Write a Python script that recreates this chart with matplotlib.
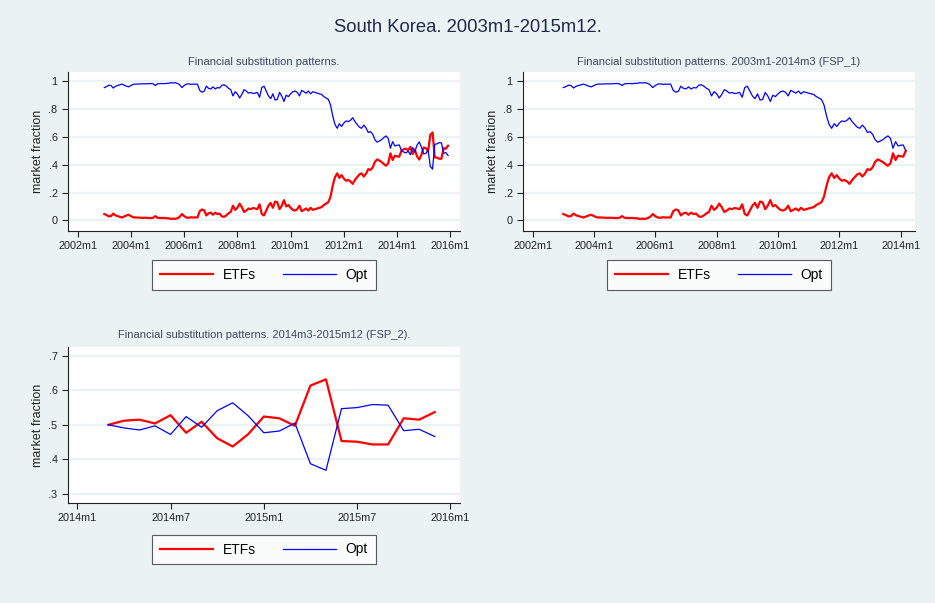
import numpy as np
import matplotlib
matplotlib.use('Agg')
import matplotlib.pyplot as plt

plt.rcParams['font.family'] = ['Liberation Sans', 'DejaVu Sans']

# monthly market fractions, South Korea 2003m1-2015m12 (one row = one year)
etfs = [
    0.045, 0.038, 0.028, 0.030, 0.048, 0.036, 0.030, 0.025, 0.020, 0.028, 0.035, 0.040,
    0.030, 0.022, 0.020, 0.020, 0.019, 0.018, 0.018, 0.018, 0.017, 0.016, 0.018, 0.030,
    0.018, 0.017, 0.016, 0.017, 0.015, 0.014, 0.010, 0.012, 0.010, 0.015, 0.025, 0.045,
    0.030, 0.020, 0.018, 0.022, 0.020, 0.021, 0.020, 0.065, 0.078, 0.072, 0.035, 0.050,
    0.055, 0.040, 0.055, 0.045, 0.048, 0.028, 0.025, 0.035, 0.050, 0.060, 0.105, 0.075,
    0.090, 0.120, 0.095, 0.060, 0.070, 0.085, 0.080, 0.088, 0.085, 0.080, 0.115, 0.045,
    0.035, 0.070, 0.105, 0.125, 0.090, 0.135, 0.130, 0.080, 0.105, 0.145, 0.100, 0.110,
    0.090, 0.075, 0.070, 0.080, 0.105, 0.065, 0.075, 0.085, 0.070, 0.090, 0.075, 0.080,
    0.085, 0.090, 0.095, 0.110, 0.120, 0.130, 0.170, 0.250, 0.310, 0.338, 0.305, 0.325,
    0.300, 0.285, 0.290, 0.280, 0.262, 0.290, 0.310, 0.330, 0.338, 0.315, 0.335, 0.368,
    0.362, 0.380, 0.420, 0.438, 0.430, 0.420, 0.405, 0.393, 0.410, 0.482, 0.434, 0.465,
    0.460, 0.458, 0.500, 0.512, 0.515, 0.504, 0.528, 0.477, 0.509, 0.461, 0.437, 0.473,
    0.524, 0.519, 0.497, 0.614, 0.632, 0.453, 0.451, 0.443, 0.443, 0.519, 0.515, 0.537,
]
opt = [
    0.955, 0.962, 0.972, 0.970, 0.952, 0.964, 0.970, 0.975, 0.980, 0.972, 0.965, 0.960,
    0.970, 0.978, 0.980, 0.980, 0.981, 0.982, 0.982, 0.982, 0.983, 0.984, 0.982, 0.970,
    0.982, 0.983, 0.984, 0.983, 0.985, 0.986, 0.990, 0.988, 0.990, 0.985, 0.975, 0.955,
    0.970, 0.980, 0.982, 0.978, 0.980, 0.979, 0.980, 0.935, 0.922, 0.928, 0.965, 0.950,
    0.945, 0.960, 0.945, 0.955, 0.952, 0.972, 0.975, 0.965, 0.950, 0.940, 0.895, 0.925,
    0.910, 0.880, 0.905, 0.940, 0.930, 0.915, 0.920, 0.912, 0.915, 0.920, 0.885, 0.955,
    0.965, 0.930, 0.895, 0.875, 0.910, 0.865, 0.870, 0.920, 0.895, 0.855, 0.900, 0.890,
    0.910, 0.925, 0.930, 0.920, 0.895, 0.935, 0.925, 0.915, 0.930, 0.910, 0.925, 0.920,
    0.915, 0.910, 0.905, 0.890, 0.880, 0.870, 0.830, 0.750, 0.690, 0.662, 0.695, 0.675,
    0.700, 0.715, 0.710, 0.720, 0.738, 0.710, 0.690, 0.670, 0.662, 0.685, 0.665, 0.632,
    0.638, 0.620, 0.580, 0.562, 0.570, 0.580, 0.595, 0.607, 0.590, 0.518, 0.566, 0.535,
    0.540, 0.542, 0.500, 0.491, 0.485, 0.497, 0.472, 0.524, 0.493, 0.541, 0.564, 0.526,
    0.477, 0.482, 0.505, 0.387, 0.368, 0.547, 0.550, 0.559, 0.557, 0.483, 0.487, 0.466,
]
years = list(range(2003, 2016))
dates = [y + (m - 1) / 12 for y in years for m in range(1, 13)]

split = 134   # index of 2014m3, end of FSP_1 / start of FSP_2

W, H = 935, 603
BG = '#eaf2f3'
TXT = '#3b4861'

fig = plt.figure(figsize=(W / 100, H / 100), dpi=100, facecolor=BG)


def px_axes(left, top, right, bottom):
    return fig.add_axes([left / W, 1 - bottom / H, (right - left) / W, (bottom - top) / H])


def panel(ax, x, e, o, xlim, xticks, xlabels, ylim, yticks, ylabels, title, title_y, leg_y):
    ax.set_facecolor('white')
    for yt in yticks:
        ax.axhline(yt, color=BG, lw=1.6, zorder=0)
    l1, = ax.plot(x, e, color='#ff0000', lw=1.6, label='ETFs')
    l2, = ax.plot(x, o, color='#0000ff', lw=0.9, label='Opt')
    ax.set_xlim(*xlim)
    ax.set_ylim(*ylim)
    ax.set_xticks(xticks)
    ax.set_xticklabels(xlabels)
    ax.set_yticks(yticks)
    ax.set_yticklabels(ylabels)
    ax.tick_params(direction='out', length=4.5, width=0.8, labelsize=7.8,
                   colors='#222222', pad=3)
    for s in ['top', 'right']:
        ax.spines[s].set_visible(False)
    for s in ['left', 'bottom']:
        ax.spines[s].set_color('#222222')
        ax.spines[s].set_linewidth(0.8)
    ax.set_ylabel('market fraction', fontsize=9, color='#222222')
    ax.yaxis.set_label_coords(-0.062, 0.5)
    bb = ax.get_position()
    cx = (bb.x0 + bb.x1) / 2
    fig.text(cx, 1 - title_y / H, title, ha='center', va='center', fontsize=8, color=TXT)
    leg = ax.legend(handles=[l1, l2], loc='center', ncol=2,
                    bbox_to_anchor=(cx, 1 - leg_y / H), bbox_transform=fig.transFigure,
                    fontsize=10, frameon=True, fancybox=False, edgecolor='#333333',
                    handlelength=3.8, handletextpad=0.7, columnspacing=2.0,
                    borderpad=0.55)
    leg.get_frame().set_linewidth(0.8)


ytk = [0, 0.2, 0.4, 0.6, 0.8, 1.0]
ylb = ['0', '.2', '.4', '.6', '.8', '1']
big_ticks = [2002, 2004, 2006, 2008, 2010, 2012, 2014, 2016]
big_labels = ['%dm1' % y for y in big_ticks]

ax1 = px_axes(68, 72, 460, 231)
panel(ax1, dates, etfs, opt, (2001.635, 2016.365), big_ticks, big_labels,
      (-0.077, 1.067), ytk, ylb, 'Financial substitution patterns.', 61.7, 275)

ax2 = px_axes(523, 72, 915, 231)
panel(ax2, dates[:split + 1], etfs[:split + 1], opt[:split + 1], (2001.687, 2014.467),
      big_ticks[:-1], big_labels[:-1], (-0.077, 1.067), ytk, ylb,
      'Financial substitution patterns. 2003m1-2014m3 (FSP_1)', 61.7, 275)

ax3 = px_axes(68, 347, 460, 503)
panel(ax3, dates[split:], etfs[split:], opt[split:], (2013.95, 2016.052),
      [2014, 2014.5, 2015, 2015.5, 2016], ['2014m1', '2014m7', '2015m1', '2015m7', '2016m1'],
      (0.273, 0.726), [0.3, 0.4, 0.5, 0.6, 0.7], ['.3', '.4', '.5', '.6', '.7'],
      'Financial substitution patterns. 2014m3-2015m12 (FSP_2).', 335, 549.5)

fig.text(0.5, 1 - 28 / H, 'South Korea. 2003m1-2015m12.', ha='center', va='center',
         fontsize=13.3, color='#1f2b4a')

fig.savefig('out.png', dpi=100, facecolor=BG)
